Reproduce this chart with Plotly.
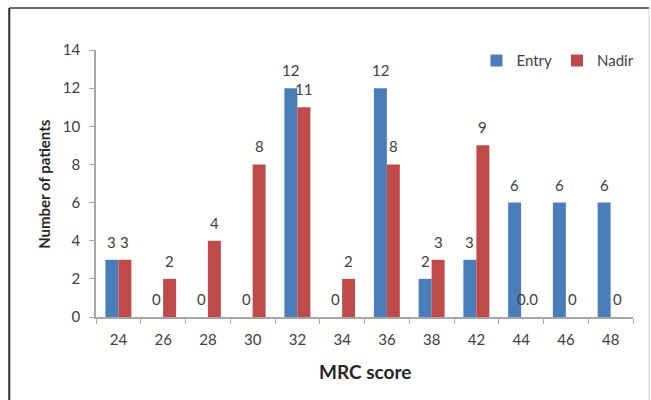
import plotly.graph_objects as go

# MRC score categories and patient counts
mrc_scores = ["24", "26", "28", "30", "32", "34", "36", "38", "42", "44", "46", "48"]
entry = [3, 0, 0, 0, 12, 0, 12, 2, 3, 6, 6, 6]
nadir = [3, 2, 4, 8, 11, 2, 8, 3, 9, 0, 0, 0]
y_ticks = [0, 2, 4, 6, 8, 10, 12, 14]

entry_labels = [str(v) for v in entry]
nadir_labels = [str(v) for v in nadir]
nadir_labels[9] = "0.0"

BLUE = "#4A7EBB"
RED = "#BE4B48"
FONT = "Lato, 'Open Sans', sans-serif"
TXT = "#404040"

fig = go.Figure()
fig.add_trace(go.Bar(name="Entry", x=mrc_scores, y=entry, marker_color=BLUE,
                     marker_line_width=0))
fig.add_trace(go.Bar(name="Nadir", x=mrc_scores, y=nadir, marker_color=RED,
                     marker_line_width=0))

# value labels above each bar (category positions given by index)
annotations = []
for xs, vals, labels in ((-6.5, entry, entry_labels), (6.5, nadir, nadir_labels)):
    for i, (v, lab) in enumerate(zip(vals, labels)):
        annotations.append(dict(x=i, y=v, xref="x", yref="y", text=lab,
                                showarrow=False, xshift=xs, yshift=18,
                                xanchor="center", yanchor="middle",
                                font=dict(family=FONT, size=15, color=TXT)))

# axis titles
annotations.append(dict(x=-0.098, y=0.5, xref="paper", yref="paper",
                        text="<b>Number of patients</b>", textangle=-90,
                        xanchor="center", yanchor="middle",
                        showarrow=False, font=dict(family=FONT, size=15, color="#262626")))
annotations.append(dict(x=0.5, y=-0.205, xref="paper", yref="paper",
                        text="<b>MRC score</b>", showarrow=False,
                        xanchor="center", yanchor="middle",
                        font=dict(family=FONT, size=19, color="#262626")))

# frame around the chart
L, T, R, B = -0.1615, 1.157, 1.03, -0.34
shapes = [
    dict(type="line", xref="paper", yref="paper", x0=L, x1=L, y0=B, y1=T,
         line=dict(color="#2a2a2a", width=2)),
    dict(type="line", xref="paper", yref="paper", x0=L, x1=R, y0=T, y1=T,
         line=dict(color="#3a3a3a", width=1.5)),
    dict(type="line", xref="paper", yref="paper", x0=R, x1=R, y0=B, y1=T,
         line=dict(color="#cfcfcf", width=1)),
]

fig.update_layout(
    width=651, height=400,
    margin=dict(l=96, r=18, t=50, b=83, autoexpand=False),
    plot_bgcolor="white", paper_bgcolor="white",
    barmode="group", bargap=0.42, bargroupgap=0,
    showlegend=True,
    legend=dict(orientation="h", x=1.012, y=0.96, xanchor="right", yanchor="middle",
                font=dict(family=FONT, size=15, color=TXT),
                itemwidth=30, bgcolor="rgba(0,0,0,0)"),
    annotations=annotations,
    shapes=shapes,
    font=dict(family=FONT, color=TXT),
)
fig.update_xaxes(type="category", range=[-0.5, len(mrc_scores) - 0.5],
                 showline=True, linecolor="#a6a6a6", linewidth=1.5,
                 ticks="outside", tickson="boundaries", ticklen=5, tickcolor="#a6a6a6",
                 tickangle=0, ticklabelstandoff=8,
                 tickfont=dict(family=FONT, size=15, color=TXT), showgrid=False)
fig.update_yaxes(range=[0, 14], tickvals=y_ticks, showline=True, linecolor="#a6a6a6",
                 linewidth=1.5, ticks="outside", ticklen=5, tickcolor="#a6a6a6",
                 ticklabelstandoff=6,
                 tickfont=dict(family=FONT, size=15, color=TXT), showgrid=False,
                 zeroline=False)

fig.write_html("out.html")
